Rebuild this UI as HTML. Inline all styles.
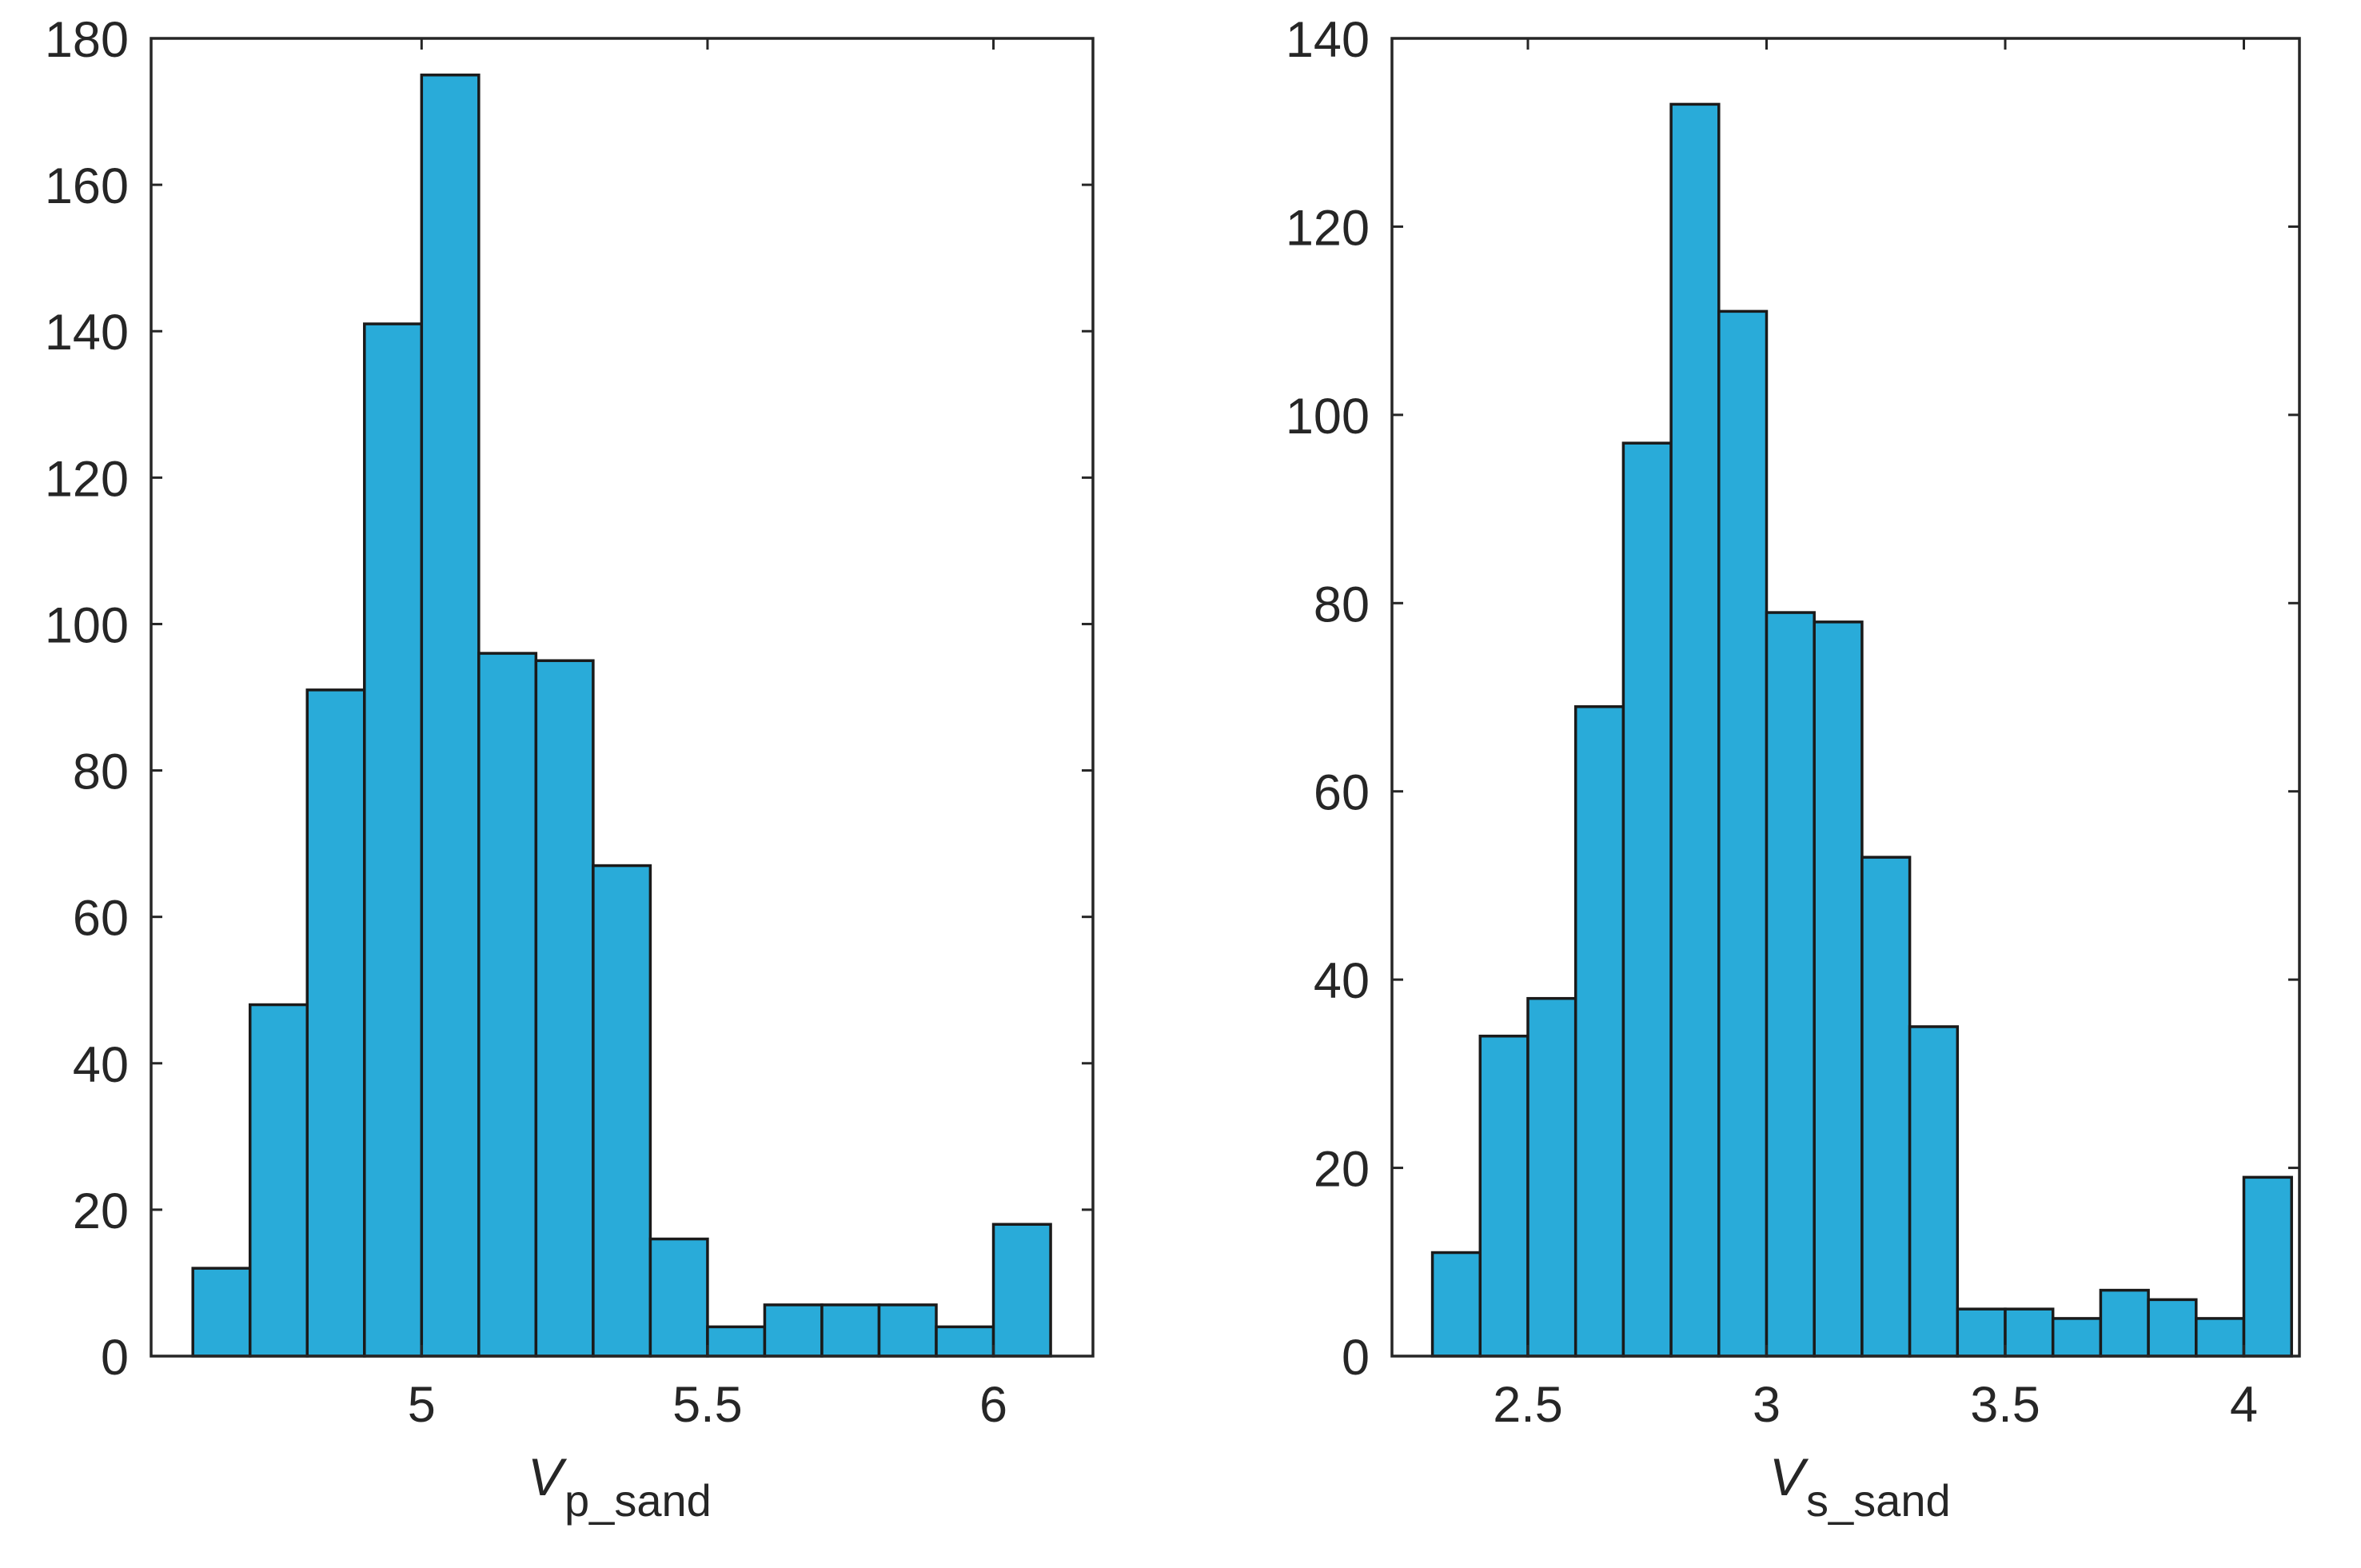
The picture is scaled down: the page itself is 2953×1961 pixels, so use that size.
<!DOCTYPE html>
<html><head><meta charset="utf-8"><style>
html,body{margin:0;padding:0;background:#fff;}
svg{display:block;}
text{font-family:"Liberation Sans",Arial,sans-serif;fill:#262626;}
</style></head><body>
<svg id="chart" width="2953" height="1961" viewBox="0 0 2953 1961" xmlns="http://www.w3.org/2000/svg"></svg>
<script>
const vpEdges=[4.6,4.7,4.8,4.9,5.0,5.1,5.2,5.3,5.4,5.5,5.6,5.7,5.8,5.9,6.0,6.1];
const vpCounts=[12,48,91,141,175,96,95,67,16,4,7,7,7,4,18];
const vpXTicks=[5,5.5,6];
const vpXTickLabels=["5","5.5","6"];
const vpYTicks=[0,20,40,60,80,100,120,140,160,180];
const vsEdges=[2.3,2.4,2.5,2.6,2.7,2.8,2.9,3.0,3.1,3.2,3.3,3.4,3.5,3.6,3.7,3.8,3.9,4.0,4.1];
const vsCounts=[11,34,38,69,97,133,111,79,78,53,35,5,5,4,7,6,4,19];
const vsXTicks=[2.5,3,3.5,4];
const vsXTickLabels=["2.5","3","3.5","4"];
const vsYTicks=[0,20,40,60,80,100,120,140];

const NS="http://www.w3.org/2000/svg";
const svg=document.getElementById('chart');
function mk(tag,attrs,parent){const e=document.createElementNS(NS,tag);for(const k in attrs)e.setAttribute(k,attrs[k]);(parent||svg).appendChild(e);return e;}

function panel(cfg){
  const g=mk('g',{});
  
  
  const {L,R,T,B,x0,x1,ymax}=cfg;
  const xs=v=>L+(v-x0)/(x1-x0)*(R-L);
  const ys=v=>B-v/ymax*(B-T);
  for(let i=0;i<cfg.counts.length;i++){
    const xa=xs(cfg.edges[i]),xb=xs(cfg.edges[i+1]),y=ys(cfg.counts[i]);
    const r=mk('rect',{x:xa,y:y,width:xb-xa,height:B-y,fill:'#29abd9',stroke:'#1a1a1a','stroke-width':3.5},g);
    
    
  }
  const box=mk('rect',{x:L,y:T,width:R-L,height:B-T,fill:'none',stroke:'#262626','stroke-width':3.5},g);
  
  
  const tl=14;
  cfg.yTicks.forEach(v=>{
    const y=ys(v);
    mk('line',{x1:L,y1:y,x2:L+tl,y2:y,stroke:'#262626','stroke-width':3},g);
    mk('line',{x1:R,y1:y,x2:R-tl,y2:y,stroke:'#262626','stroke-width':3},g);
    const t=mk('text',{x:L-28,y:y+23,'text-anchor':'end','font-size':63},g);
    t.textContent=String(v);
    
    
  });
  cfg.xTicks.forEach((v,i)=>{
    const x=xs(v);
    mk('line',{x1:x,y1:B,x2:x,y2:B-tl,stroke:'#262626','stroke-width':3},g);
    mk('line',{x1:x,y1:T,x2:x,y2:T+tl,stroke:'#262626','stroke-width':3},g);
    const t=mk('text',{x:x,y:B+82,'text-anchor':'middle','font-size':63},g);
    t.textContent=cfg.xLabels[i];
    
    
  });
  const lab=mk('text',{x:cfg.labX,y:1870,'font-size':66},g);
  
  
  const v=mk('tspan',{'font-style':'italic'},lab);v.textContent='V';
  const s=mk('tspan',{dy:26,dx:2,'font-size':56},lab);s.textContent=cfg.sub;
}
panel({name:'vp-sand-histogram',L:189,R:1367,T:48,B:1696,x0:4.527,x1:6.174,ymax:180,
  edges:vpEdges,counts:vpCounts,xTicks:vpXTicks,xLabels:vpXTickLabels,yTicks:vpYTicks,labX:660,sub:'p_sand'});
panel({name:'vs-sand-histogram',L:1741,R:2876,T:48,B:1696,x0:2.5-(1911-1741)/597,x1:2.5+(2876-1911)/597,ymax:140,
  edges:vsEdges,counts:vsCounts,xTicks:vsXTicks,xLabels:vsXTickLabels,yTicks:vsYTicks,labX:2213,sub:'s_sand'});
</script>
</body></html>
